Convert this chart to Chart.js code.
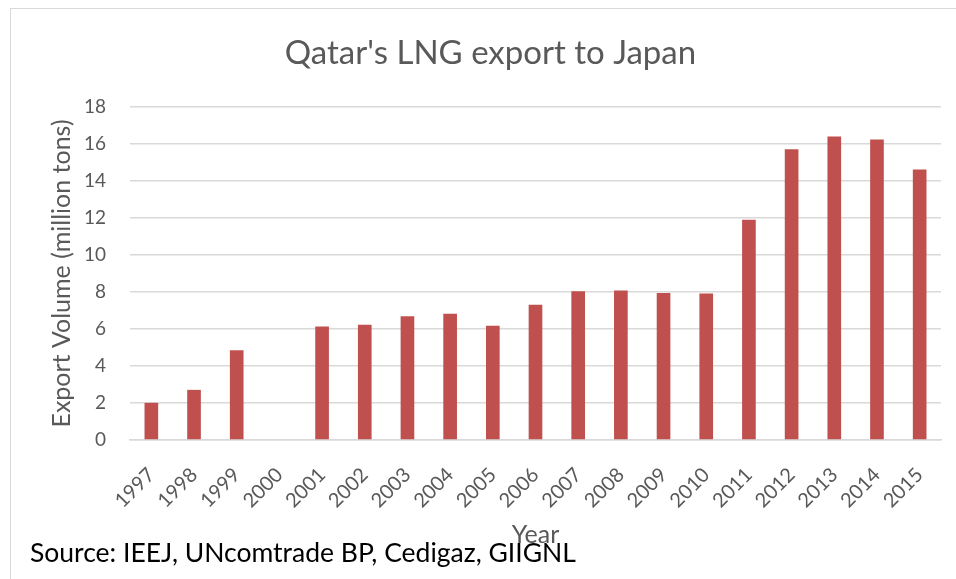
<!DOCTYPE html>
<html>
<head>
<meta charset="utf-8">
<script src="https://cdn.jsdelivr.net/npm/chart.js@4"></script>
<style>
  html, body { margin: 0; padding: 0; background: #fff; }
  #wrap { position: relative; width: 956px; height: 579px; overflow: hidden; }
  #frame { position: absolute; left: 10px; top: 8px; width: 960px; height: 600px;
           border-left: 1.5px solid #D9D9D9; border-top: 1.5px solid #D9D9D9; box-sizing: border-box; }
  canvas { position: absolute; left: 0; top: 0; }
  #source { position: absolute; left: 30px; top: 536px; font-family: Lato, "Open Sans", sans-serif;
            font-size: 26.5px; line-height: 32px; color: #000; white-space: nowrap; }
</style>
</head>
<body>
<div id="wrap">
  <div id="frame"></div>
  <canvas id="c" width="956" height="579"></canvas>
  <div id="source">Source: IEEJ, UNcomtrade BP, Cedigaz, GIIGNL</div>
</div>
<script>
const years = ["1997","1998","1999","2000","2001","2002","2003","2004","2005","2006","2007","2008","2009","2010","2011","2012","2013","2014","2015"];
const exportVolume = [2.01, 2.71, 4.85, 0, 6.14, 6.23, 6.69, 6.82, 6.17, 7.31, 8.04, 8.08, 7.94, 7.92, 11.9, 15.72, 16.41, 16.24, 14.62];
const yTicks = [0, 2, 4, 6, 8, 10, 12, 14, 16, 18];

const FONT = 'Lato, "Open Sans", sans-serif';
const GREY = '#595959';

new Chart(document.getElementById('c'), {
  type: 'bar',
  data: {
    labels: years,
    datasets: [{
      label: 'Export Volume',
      data: exportVolume,
      backgroundColor: '#C0504D',
      borderWidth: 0,
      barPercentage: 0.32,
      categoryPercentage: 1.0
    }]
  },
  options: {
    responsive: false,
    animation: false,
    devicePixelRatio: 1,
    layout: { padding: { left: 40, right: 15, top: 0, bottom: 0 } },
    plugins: {
      legend: { display: false },
      tooltip: { enabled: false },
      title: {
        display: true,
        text: "Qatar's LNG export to Japan",
        color: GREY,
        font: { family: FONT, size: 33, weight: 'normal', lineHeight: 1.2 },
        padding: { top: 34, bottom: 33.4 }
      }
    },
    scales: {
      x: {
        afterFit: (axis) => { axis.height = 139; },
        grid: { display: false },
        border: { display: true, color: '#D9D9D9', width: 1.5 },
        ticks: {
          color: GREY,
          font: { family: FONT, size: 20 },
          maxRotation: 45, minRotation: 45,
          padding: 15,
          autoSkip: false
        },
        title: {
          display: true, text: 'Year', color: GREY,
          font: { family: FONT, size: 25, lineHeight: 1.2 },
          padding: { top: 0, bottom: 29 }
        }
      },
      y: {
        min: 0, max: 18,
        afterFit: (axis) => { axis.width = 90; },
        afterBuildTicks: (axis) => { axis.ticks = yTicks.map(v => ({ value: v })); },
        grid: { color: '#D9D9D9', lineWidth: 1.5, drawTicks: false },
        border: { display: false },
        ticks: {
          color: GREY,
          font: { family: FONT, size: 19 },
          padding: 24
        },
        title: {
          display: true, text: 'Export Volume (million tons)', color: GREY,
          font: { family: FONT, size: 25, lineHeight: 1.2 },
          padding: { top: 7, bottom: 0 }
        }
      }
    }
  }
});
</script>
</body>
</html>
